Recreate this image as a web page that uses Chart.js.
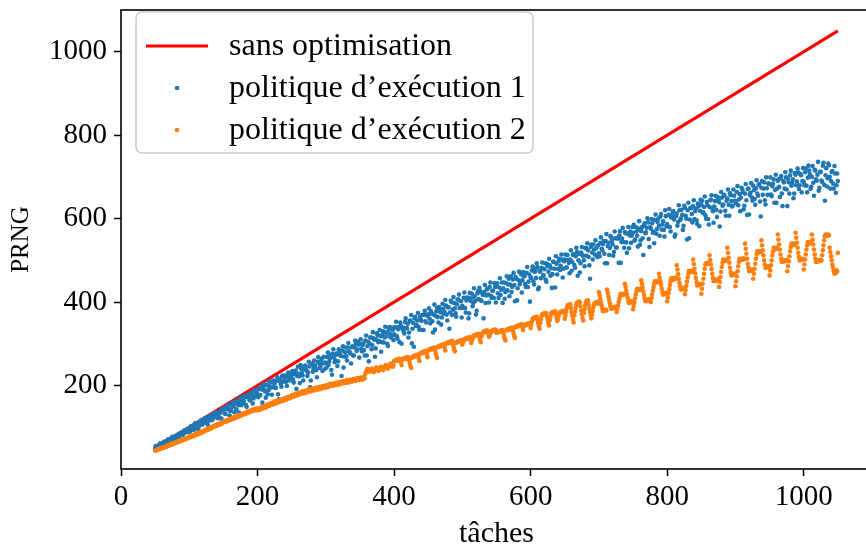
<!DOCTYPE html>
<html>
<head>
<meta charset="utf-8">
<script src="https://cdn.jsdelivr.net/npm/chart.js"></script>
<style>
  html, body { margin: 0; padding: 0; background: #fff; overflow: hidden; }
  #box { width: 880px; height: 554px; position: relative; }
</style>
</head>
<body>
<div id="box"><canvas id="myChart"></canvas></div>
<script>
// donnees
const xTicks = [0, 200, 400, 600, 800, 1000];
const yTicks = [200, 400, 600, 800, 1000];
const legendLabels = ['sans optimisation', 'politique d\u2019ex\u00e9cution 1', 'politique d\u2019ex\u00e9cution 2'];

const sansOptX = [50, 1050];
const sansOptY = [50, 1050];

// politique 1 : taches paires (50, 52, ... 1050)
const politique1Pairs = [
  50,53,51,57,55,61,58,65,63,64,71,67,73,70,77,78,75,83,80,86,83,90,88,94,90,
  93,101,94,101,108,101,106,101,112,116,109,116,115,124,115,124,121,119,131,129,135,129,122,137,143,
  143,133,144,151,142,139,155,151,136,158,163,153,161,153,172,163,172,149,173,166,182,175,169,185,183,
  179,193,177,191,199,189,171,200,189,198,208,196,206,194,212,179,211,204,222,210,220,209,219,229,217,
  228,215,227,236,223,228,206,240,224,239,248,235,231,246,212,253,241,248,237,257,254,246,264,253,239,
  254,268,249,265,237,276,267,260,277,258,277,271,284,243,280,270,291,282,277,292,272,292,301,286,298,
  300,288,297,285,308,272,305,301,315,297,313,269,311,321,306,318,304,330,315,327,300,334,324,317,333,
  323,340,318,335,304,343,336,329,352,338,348,327,355,301,350,361,343,356,341,364,355,333,370,354,369,
  371,360,378,354,370,334,378,364,388,375,363,384,376,392,356,388,375,400,382,398,373,395,406,386,402,
  391,410,386,404,410,373,403,420,398,413,370,421,407,426,403,417,424,398,431,418,436,415,427,410,436,
  438,421,435,417,447,433,408,445,428,456,442,424,454,441,460,404,453,443,467,452,462,443,470,436,466,
  459,476,450,472,458,484,435,473,482,462,479,454,492,473,488,481,467,496,435,492,480,504,487,502,480,
  502,483,513,494,502,475,513,489,510,520,500,471,519,512,500,529,511,524,488,532,519,538,514,529,508,
  517,542,528,539,516,546,493,542,530,555,538,520,553,531,552,560,494,552,544,568,543,564,529,569,559,
  566,547,580,559,576,537,570,553,584,565,578,591,532,576,589,569,597,564,592,583,605,574,594,557,606,
  587,609,580,603,615,598,562,612,592,620,600,609,583,626,600,620,553,626,611,630,599,624,587,630,619,
  633,614,628,608,640,599,628,645,624,590,642,621,652,639,617,650,634,655,607,648,633,661,642,631,655,
  642,664,632,659,650,670,622,660,644,671,610,662,651,679,647,673,660,681,641,674,657,687,634,673,684,
  683,658,678,694,669,638,691,676,697,660,690,672,699,630,687,704,679,694,660,705,689,711,680,704,690,
  688,711,679,698,715,671,700,686,717,694,705,667,712,691,727,681,704,677,732,700,690,714,672,708,680,
  690
];

// politique 1 : taches impaires (51, 53, ... 1049)
const politique1Impairs = [
  55,50,56,61,54,60,65,58,67,71,67,65,77,75,73,80,78,75,87,86,82,93,88,94,88,
  90,103,101,94,110,102,96,112,116,106,114,122,112,106,123,128,117,127,134,125,122,137,134,121,143,
  146,132,146,154,128,144,158,150,162,143,162,135,171,162,157,175,154,174,179,164,177,157,189,175,188,
  172,196,191,159,203,186,201,179,210,195,178,212,205,195,220,167,215,197,224,210,224,199,231,212,224,
  235,207,231,192,245,222,249,230,212,246,240,223,257,196,250,233,260,242,220,268,242,258,235,269,255,
  243,279,257,273,226,287,256,274,247,287,273,223,294,269,291,260,302,279,253,294,272,308,283,305,267,
  311,282,301,272,320,294,258,315,287,328,310,289,325,304,333,281,322,303,341,318,295,340,315,339,309,
  321,353,312,340,351,300,339,325,361,337,315,356,369,336,293,365,345,374,334,359,369,333,379,351,367,
  385,349,372,327,394,367,386,351,383,346,396,372,405,370,387,336,403,369,412,385,365,406,418,386,363,
  386,423,375,411,361,422,409,390,433,403,379,426,434,404,422,361,441,416,432,399,447,410,427,445,399,
  445,410,457,429,398,447,424,462,442,414,462,436,470,402,456,433,473,450,423,472,462,436,484,449,401,
  458,485,442,479,493,431,474,457,495,465,493,449,486,504,463,434,497,480,510,466,498,477,514,459,498,
  514,483,501,469,524,496,515,482,530,463,515,493,532,511,486,530,541,508,456,538,502,526,548,511,536,
  510,555,524,546,493,563,534,513,558,546,511,569,531,554,494,570,544,578,530,565,518,580,560,542,580,
  585,550,569,533,594,548,579,513,589,567,601,551,579,599,566,541,610,575,600,559,611,586,573,620,582,
  581,623,569,606,618,557,606,583,632,597,621,573,631,607,550,638,598,625,591,644,618,596,636,582,645,
  643,615,653,600,632,586,644,656,618,629,655,604,644,581,664,631,657,619,643,670,607,656,629,670,643,
  637,678,646,618,674,663,631,683,609,672,657,685,643,668,633,692,655,683,605,690,672,644,699,657,684,
  699,654,683,638,705,672,694,652,702,630,687,711,670,695,660,715,685,649,709,680,720,671,707,663,721,
  680,720,663,727,706,676,726,655,715,691,736,674,712,688,734,643,721,697,728,672,712,684,726,662,708
];

// politique 2 : toutes les taches (50, 51, ... 1050)
const politique2 = [
  44,45,45,46,47,47,48,49,48,50,50,51,52,51,53,54,53,55,56,55,57,58,57,59,60,59,61,62,61,63,63,64,65,64,66,67,66,68,69,68,70,70,71,72,71,73,74,73,75,75,
  77,78,76,79,80,78,81,82,80,83,84,82,85,86,84,87,88,86,89,90,88,91,93,91,94,95,93,96,97,95,98,99,97,100,102,100,103,104,102,105,106,104,107,108,106,109,110,108,111,112,
  112,114,113,115,116,114,117,118,116,119,120,118,121,122,120,123,124,122,125,126,124,127,128,126,129,130,128,131,132,130,133,134,132,135,136,134,137,138,136,139,140,138,141,142,140,143,143,141,144,145,
  141,143,145,143,142,146,148,147,145,149,151,149,147,150,153,155,153,151,154,156,158,156,154,157,160,162,160,157,159,162,164,162,160,163,166,167,165,163,165,168,170,168,166,169,172,173,171,169,171,174,
  175,177,175,173,176,179,180,178,176,178,181,183,181,179,182,185,186,184,181,183,186,188,186,184,187,190,191,189,186,188,191,193,190,188,191,194,195,193,190,192,195,197,194,192,195,198,199,197,194,196,
  199,201,198,196,199,202,204,202,199,200,203,205,203,200,202,205,207,205,202,204,207,209,206,204,206,209,211,208,206,208,211,213,210,207,209,212,214,212,209,211,214,216,213,211,213,216,218,215,213,215,
  217,219,216,214,217,220,219,217,228,233,237,240,238,235,233,236,239,241,238,236,232,235,238,241,243,240,237,235,238,241,243,245,242,239,237,240,244,247,249,246,243,241,244,248,251,253,250,247,245,248,
  258,260,259,261,262,260,263,262,264,263,256,249,262,264,263,265,266,264,267,266,268,267,260,253,247,242,266,268,270,269,271,270,272,273,271,274,266,259,276,278,277,279,280,279,281,282,280,283,275,268,
  284,286,285,287,288,287,289,290,288,291,284,277,271,266,292,294,293,295,296,294,297,298,297,299,291,284,300,302,301,303,304,302,305,306,304,307,300,293,287,282,302,304,303,305,306,305,307,308,306,309,
  298,303,308,311,312,311,313,314,312,315,314,316,309,302,308,313,318,320,319,321,322,320,323,322,324,317,310,304,318,323,327,329,328,330,331,329,332,331,324,317,320,325,329,331,330,332,333,331,334,333,
  326,328,327,329,330,329,331,332,330,333,326,319,313,308,332,334,333,335,336,334,337,338,336,339,332,325,319,314,340,342,341,343,344,343,345,346,344,347,340,333,343,345,344,346,347,346,348,349,347,350,
  338,346,354,360,362,361,363,364,362,365,357,349,342,336,350,358,366,371,370,372,373,371,374,373,365,357,350,344,357,365,372,375,374,376,377,375,378,370,362,355,358,366,373,376,375,377,378,376,379,378,
  360,368,377,385,391,393,392,394,395,386,376,367,358,351,368,377,386,394,399,398,400,401,399,390,380,371,362,356,374,383,392,399,403,402,404,395,385,376,368,361,370,379,388,395,398,397,399,400,398,396,
  424,416,407,399,391,384,378,380,379,381,382,380,430,422,413,405,397,390,384,386,385,387,388,386,389,388,376,384,392,400,408,415,420,418,419,417,420,418,444,436,427,419,411,404,398,400,399,401,402,400,
  383,391,400,409,418,426,432,430,431,429,432,430,452,444,435,426,417,409,402,404,403,405,406,404,407,406,400,409,418,427,436,444,450,448,449,447,450,448,468,459,450,441,432,424,418,420,419,421,422,420,
  402,411,421,431,441,450,457,455,456,454,457,455,458,456,488,478,467,456,446,437,430,432,431,433,434,432,419,429,439,449,459,468,475,473,474,472,475,473,502,491,480,469,458,448,440,442,441,443,444,442,
  420,432,444,456,468,480,490,493,491,494,492,495,512,501,490,479,468,458,450,452,451,453,454,452,455,454,436,448,460,472,484,494,502,500,501,499,502,500,530,518,506,494,482,472,464,466,465,467,468,466,
  438,450,462,474,486,496,504,502,503,501,504,502,505,503,540,528,516,504,492,482,474,476,475,477,478,476,456,468,480,492,504,514,522,520,521,519,522,520,548,536,524,512,500,490,482,484,483,485,486,484,
  464,476,488,500,512,522,530,528,529,527,530,528,562,550,538,526,514,504,496,498,497,499,500,498,501,500,474,486,498,510,522,532,540,538,539,537,540,538,566,554,542,530,518,508,500,502,501,503,504,502,
  478,490,502,514,526,536,544,542,543,541,544,542,562,550,538,526,514,504,496,498,497,499,500,498,501,500,500,512,524,536,548,558,562,560,561,559,562,560,530,520,510,500,490,482,474,468,472,470,476,474,
  518
];

const rouge = '#ff0000';
const bleu = '#1f77b4';
const orange = '#ff7f0e';
const police = '"Liberation Serif", "Times New Roman", serif';

function toPoints(arr, debut, pas) {
  return arr.map((y, i) => ({ x: debut + i * pas, y: y }));
}

// cadre autour de la zone de trace + legende dans le coin
const cadrePlugin = {
  id: 'cadre',
  afterDatasetsDraw(chart) {
    const a = chart.chartArea;
    const c = chart.ctx;
    c.save();
    c.strokeStyle = '#000';
    c.lineWidth = 1.6;
    c.strokeRect(a.left, a.top, a.right - a.left, a.bottom - a.top);
    c.restore();
  },
  afterDraw(chart) {
    const c = chart.ctx;
    const ds = chart.data.datasets;
    c.save();
    const bx = 136, by = 12, bw = 397, bh = 141, r = 6;
    c.beginPath();
    c.moveTo(bx + r, by);
    c.arcTo(bx + bw, by, bx + bw, by + bh, r);
    c.arcTo(bx + bw, by + bh, bx, by + bh, r);
    c.arcTo(bx, by + bh, bx, by, r);
    c.arcTo(bx, by, bx + bw, by, r);
    c.closePath();
    c.fillStyle = 'rgba(255,255,255,0.8)';
    c.fill();
    c.strokeStyle = '#cccccc';
    c.lineWidth = 1.5;
    c.stroke();

    c.font = '32px ' + police;
    c.textBaseline = 'middle';
    const rows = [46, 88, 130];
    for (let i = 0; i < ds.length; i++) {
      const y = rows[i];
      if (i === 0) {
        c.strokeStyle = ds[i].borderColor;
        c.lineWidth = 3;
        c.beginPath();
        c.moveTo(146, y);
        c.lineTo(208, y);
        c.stroke();
      } else {
        c.fillStyle = ds[i].backgroundColor;
        c.beginPath();
        c.arc(177, y, 2.3, 0, Math.PI * 2);
        c.fill();
      }
      c.fillStyle = '#000';
      c.fillText(ds[i].label, 229, y + 1);
    }
    c.restore();
  }
};

new Chart(document.getElementById('myChart'), {
  type: 'scatter',
  data: {
    datasets: [{
      type: 'line',
      label: legendLabels[0],
      data: sansOptX.map((x, i) => ({ x: x, y: sansOptY[i] })),
      borderColor: rouge,
      backgroundColor: rouge,
      borderWidth: 3,
      pointRadius: 0,
      order: 3
    }, {
      label: legendLabels[1],
      data: toPoints(politique1Pairs, 50, 2).concat(toPoints(politique1Impairs, 51, 2)),
      backgroundColor: bleu,
      borderWidth: 0,
      pointRadius: 2.3,
      order: 2
    }, {
      label: legendLabels[2],
      data: toPoints(politique2, 50, 1),
      backgroundColor: orange,
      borderWidth: 0,
      pointRadius: 2.3,
      order: 1
    }]
  },
  options: {
    responsive: true,
    maintainAspectRatio: false,
    animation: false,
    layout: { padding: { left: 0, top: 10, right: 8, bottom: 0 } },
    plugins: {
      legend: { display: false },
      tooltip: { enabled: false }
    },
    scales: {
      x: {
        type: 'linear',
        min: 0,
        max: 1100,
        afterBuildTicks: s => { s.ticks = xTicks.map(v => ({ value: v })); },
        afterFit: s => { s.height = 85; s.paddingLeft = 0; s.paddingRight = 0; },
        grid: { drawOnChartArea: false, drawTicks: true, tickLength: 7, tickWidth: 1.5, tickColor: '#000' },
        border: { display: false },
        ticks: { color: '#000', padding: 4, maxRotation: 0, callback: v => String(v), font: { family: police, size: 29 } },
        title: { display: true, text: 't\u00e2ches', color: '#000', padding: { top: 0, bottom: 2 }, font: { family: police, size: 30 } }
      },
      y: {
        type: 'linear',
        min: 0,
        max: 1100,
        afterBuildTicks: s => { s.ticks = yTicks.map(v => ({ value: v })); },
        afterFit: s => { s.width = 121; s.paddingTop = 0; s.paddingBottom = 0; },
        grid: { drawOnChartArea: false, drawTicks: true, tickLength: 7, tickWidth: 1.5, tickColor: '#000' },
        border: { display: false },
        ticks: { color: '#000', padding: 7, callback: v => String(v), font: { family: police, size: 29 } },
        title: { display: true, text: 'PRNG', color: '#000', padding: { top: 6, bottom: 0 }, font: { family: police, size: 25 } }
      }
    }
  },
  plugins: [cadrePlugin]
});
</script>
</body>
</html>
